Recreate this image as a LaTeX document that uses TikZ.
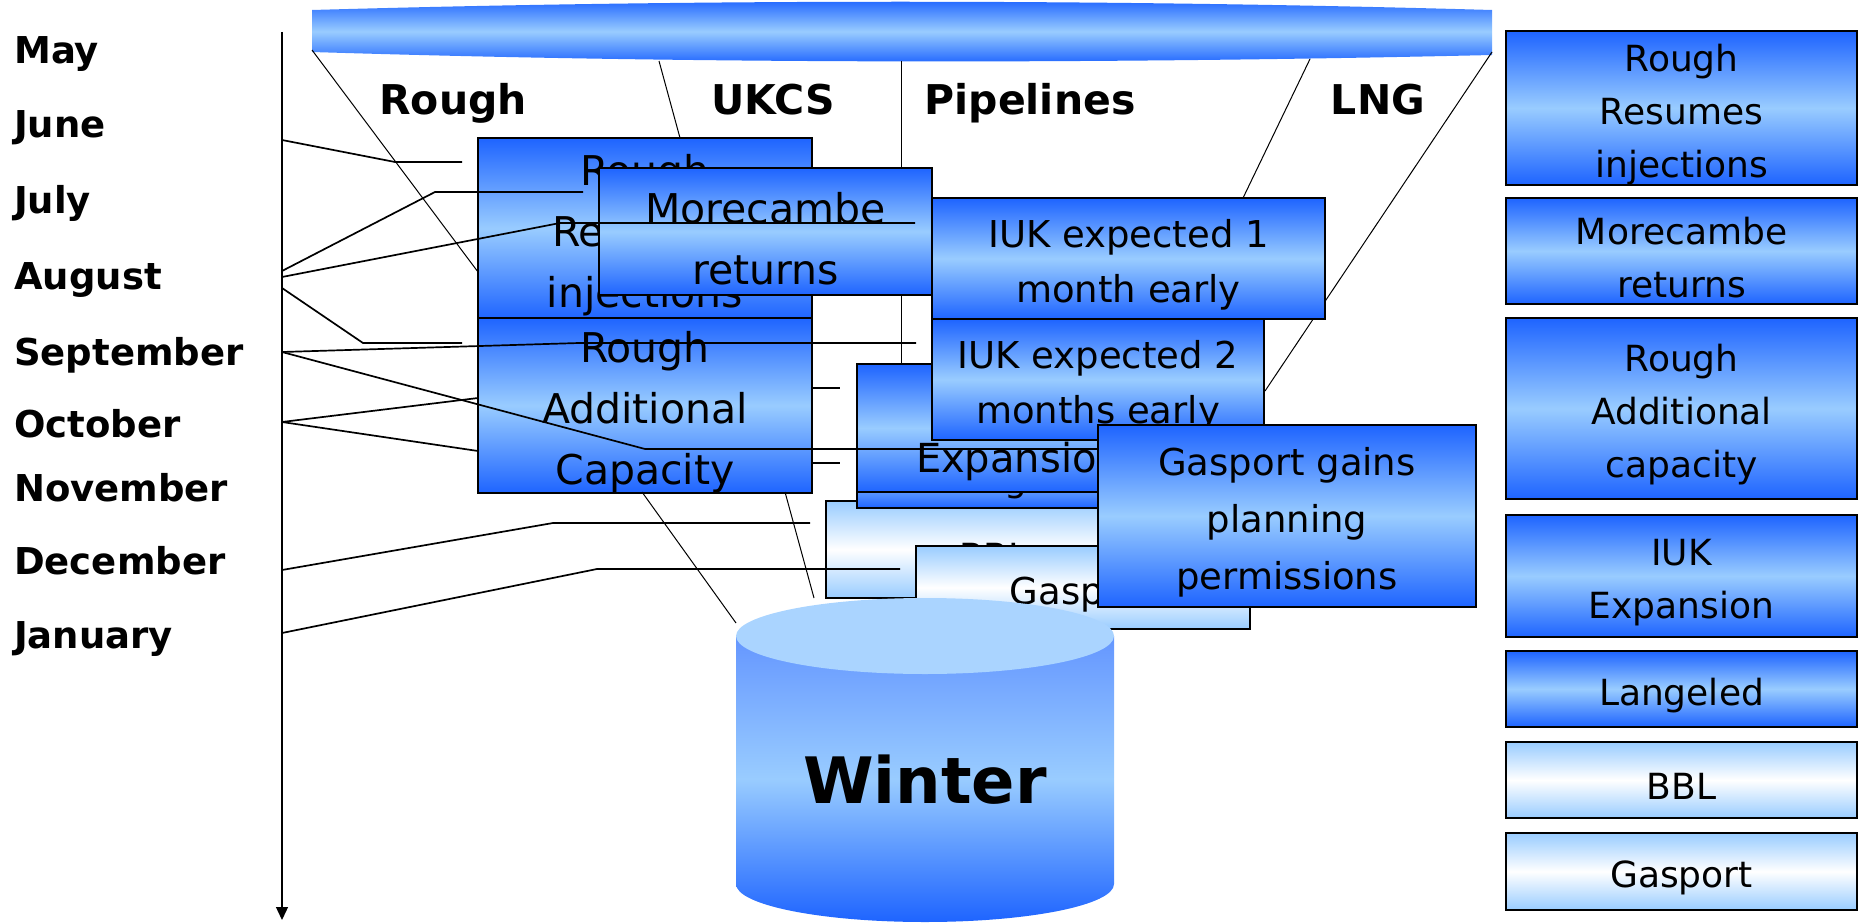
\documentclass[tikz,border=0pt]{standalone}
\usepackage{fontspec}
\setmainfont{DejaVu Sans}
\usetikzlibrary{arrows.meta}

\definecolor{deepblue}{RGB}{30,100,255}
\definecolor{paleblue}{RGB}{153,204,255}
\definecolor{lidblue}{RGB}{170,212,255}
\definecolor{tankblue}{RGB}{100,150,255}

\newcommand{\boxlift}{\rule{0pt}{1.1em}}

\tikzstyle{month}=[anchor=base west,inner sep=0pt,font=\fontsize{37}{44}\selectfont\bfseries]
\tikzstyle{source}=[anchor=base,inner sep=0pt,font=\fontsize{41}{49}\selectfont\bfseries]
\tikzstyle{bluebox}=[draw,line width=2pt,top color=deepblue,bottom color=deepblue,middle color=paleblue,align=center,inner sep=0pt]
\tikzstyle{whitebox}=[draw,line width=2pt,top color=paleblue,bottom color=paleblue,middle color=white,align=center,inner sep=0pt]
\tikzstyle{bigtext}=[font=\fontsize{41}{61}\selectfont]
\tikzstyle{midtext}=[font=\fontsize{37}{55}\selectfont]
\tikzstyle{keytext}=[font=\fontsize{36}{53}\selectfont]
\tikzstyle{link}=[draw,line width=1.7pt]
\tikzstyle{funnel}=[draw,line width=1pt]

\begin{document}
\begin{tikzpicture}[x=1pt,y=-1pt]
	\useasboundingbox (0,0) rectangle (1860,923);

	\shade[top color=deepblue,bottom color=deepblue,middle color=paleblue]
		(312,10) .. controls (700,-1) and (1100,-1) .. (1492,10) -- (1492,55)
		.. controls (1100,64) and (700,64) .. (312,52) -- cycle;

	\coordinate (bl)    at (312,50);
	\coordinate (bukcs) at (659,61);
	\coordinate (bpipe) at (901,61);
	\coordinate (blng)  at (1310,59);
	\coordinate (br)    at (1492,52);
	\coordinate (fa)    at (478,272);
	\coordinate (fukcs) at (680,138);
	\coordinate (fpipe) at (901,364);
	\coordinate (flng)  at (1243,198);
	\coordinate (fr)    at (1265,391);

	\node [month] (may)  at (14,64)  {May};
	\node [month] (jun)  at (14,138) {June};
	\node [month] (jul)  at (14,213) {July};
	\node [month] (aug)  at (14,289) {August};
	\node [month] (sep)  at (14,365) {September};
	\node [month] (oct)  at (14,437) {October};
	\node [month] (nov)  at (14,501) {November};
	\node [month] (dec)  at (14,574) {December};
	\node [month] (jan)  at (14,648) {January};

	\node [source] (trough) at (453,115)  {Rough};
	\node [source] (tukcs)  at (773,115)  {UKCS};
	\node [source] (tpipe)  at (1030,115) {Pipelines};
	\node [source] (tlng)   at (1378,115) {LNG};

	\coordinate (axtop) at (282,32);
	\coordinate (axend) at (282,920);
	\draw[line width=1.3pt,-{Triangle[length=13pt,width=12pt]}] (axtop) -- (axend);

	\draw[funnel] (bl) -- (fa);
	\draw[funnel] (bukcs) -- (fukcs);
	\draw[funnel] (bpipe) -- (fpipe);
	\draw[funnel] (blng) -- (flng);
	\draw[funnel] (br) -- (fr);

	\node [bluebox,bigtext,minimum width=334,minimum height=181] (roughinj)  at (645,228.5)  {\boxlift Rough\\Resumes\\injections};
	\node [bluebox,bigtext,minimum width=334,minimum height=173] (roughadd)  at (645,405.5)  {\boxlift Rough\\Additional\\Capacity};
	\node [bluebox,bigtext,minimum width=333,minimum height=127] (morecambe) at (765.5,231.5) {\boxlift Morecambe\\returns};
	\node [bluebox,midtext,minimum width=393,minimum height=121] (iukone)    at (1128.5,258.5) {\boxlift IUK expected 1\\month early};
	\node [whitebox,keytext,minimum width=336,minimum height=97] (bbl)       at (994,549.5)  {\boxlift BBL};
	\node [bluebox,keytext,minimum width=330,minimum height=66]  (langeled)  at (1022,475)    {\boxlift Langeled};
	\node [bluebox,font=\fontsize{40}{53}\selectfont,minimum width=324,minimum height=128] (iukexp) at (1019,428) {\boxlift IUK\\Expansion};
	\node [bluebox,midtext,minimum width=332,minimum height=121] (iuktwo)    at (1098,379.5) {\boxlift IUK expected 2\\months early};
	\node [whitebox,midtext,minimum width=334,minimum height=83] (gasport)   at (1083,587.5) {\boxlift Gasport};
	\node [bluebox,font=\fontsize{37}{57}\selectfont,minimum width=378,minimum height=182] (gasgains) at (1287,516) {\boxlift Gasport gains\\planning\\permissions};

	\coordinate (ax1) at (282,140);
	\coordinate (ax2) at (282,271);
	\coordinate (ax3) at (282,277);
	\coordinate (ax4) at (282,288);
	\coordinate (ax5) at (282,352);
	\coordinate (ax6) at (282,422);
	\coordinate (ax7) at (282,570);
	\coordinate (ax8) at (282,633);
	\coordinate (end1) at (462,162);
	\coordinate (end2) at (583,192);
	\coordinate (end3) at (915,223);
	\coordinate (end4) at (462,343);
	\coordinate (end5) at (916,343);
	\coordinate (end6) at (1098,449);
	\coordinate (end7) at (810,523);
	\coordinate (end8) at (900,569);
	\coordinate (add1) at (478,398);
	\coordinate (add2) at (478,451);

	\draw[link] (ax1) -- (395,162) -- (end1);
	\draw[link] (ax2) -- (435,192) -- (end2);
	\draw[link] (ax3) -- (560,223) -- (end3);
	\draw[link] (ax4) -- (363,343) -- (end4);
	\draw[link] (ax5) -- (579,343) -- (end5);
	\draw[link] (ax5) -- (645,449) -- (end6);
	\draw[link] (ax6) -- (add1);
	\draw[link] (ax6) -- (add2);
	\draw[link] (ax7) -- (553,523) -- (end7);
	\draw[link] (ax8) -- (597,569) -- (end8);
	\draw[link] (812,388) -- (840,388);
	\draw[link] (812,463) -- (840,463);

	\shade[top color=tankblue,bottom color=deepblue,middle color=paleblue]
		(736,636) -- (736,884) arc (180:0:189 and 38) -- (1114,636) -- cycle;
	\fill[lidblue] (925,636) ellipse (189 and 38);
	\node [anchor=base,font=\fontsize{64}{70}\selectfont\bfseries] (winter) at (925,803) {Winter};

	\coordinate (tankl) at (736,623);
	\coordinate (tankt) at (814,598);
	\draw[funnel] (642,492) -- (tankl);
	\draw[funnel] (785,492) -- (tankt);

	\node [bluebox,keytext,minimum width=351,minimum height=152]  (keyinj)  at (1681.5,108)   {\boxlift Rough\\Resumes\\injections};
	\node [bluebox,keytext,minimum width=351,minimum height=106]  (keymore) at (1681.5,251)   {\boxlift Morecambe\\returns};
	\node [bluebox,keytext,minimum width=351,minimum height=181]  (keyadd)  at (1681.5,408.5) {\boxlift Rough\\Additional\\capacity};
	\node [bluebox,keytext,minimum width=351,minimum height=122]  (keyiuk)  at (1681.5,576)   {\boxlift IUK\\Expansion};
	\node [bluebox,keytext,minimum width=351,minimum height=76]   (keylang) at (1681.5,689)   {\boxlift Langeled};
	\node [whitebox,keytext,minimum width=351,minimum height=76]  (keybbl)  at (1681.5,780)   {\boxlift BBL};
	\node [whitebox,keytext,minimum width=351,minimum height=77]  (keygas)  at (1681.5,871.5) {\boxlift Gasport};
\end{tikzpicture}
\end{document}
